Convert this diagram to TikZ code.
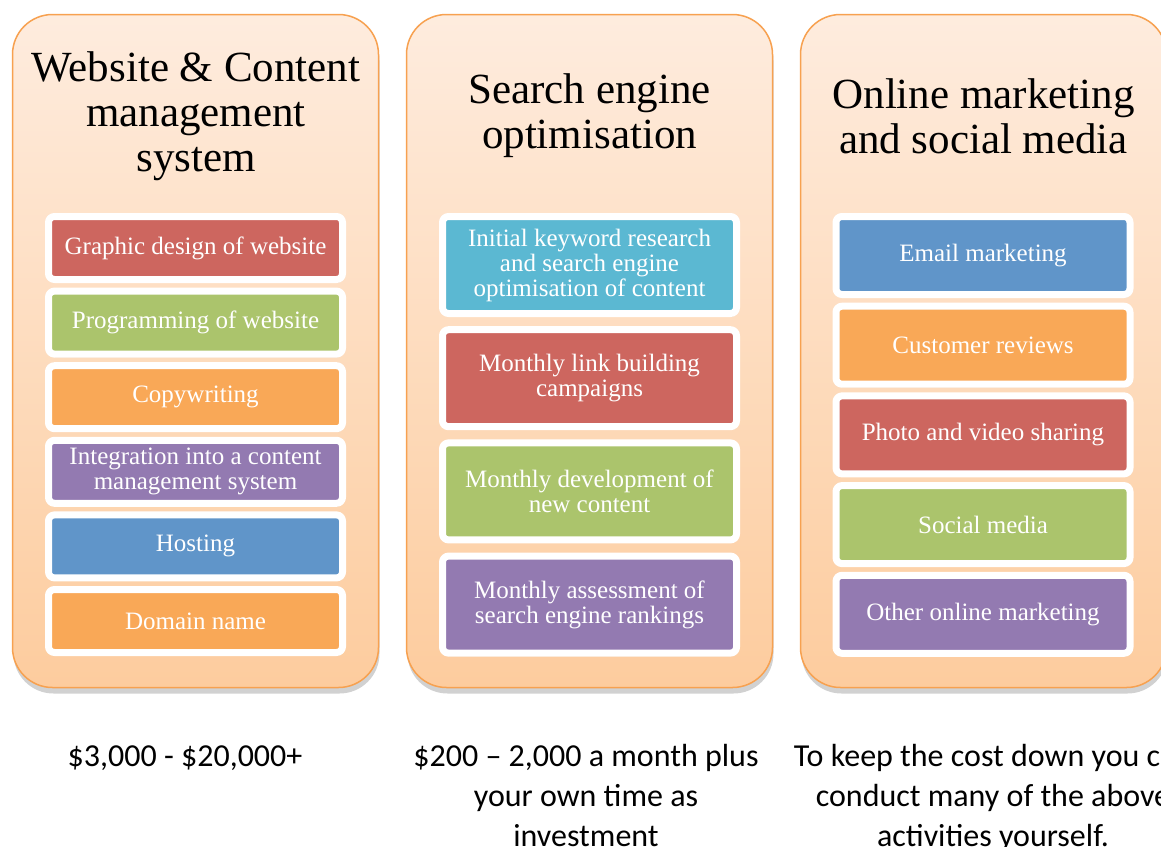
\documentclass[tikz,border=0pt]{standalone}
\usepackage{fontspec}
\setmainfont{Liberation Serif}
\newfontfamily\costfont{Carlito}
\usetikzlibrary{shadows}
\definecolor{panelline}{RGB}{247,161,80}
\definecolor{paneltop}{RGB}{254,236,222}
\definecolor{panelbot}{RGB}{253,204,158}
\definecolor{boxred}{RGB}{205,102,95}
\definecolor{boxgreen}{RGB}{171,196,108}
\definecolor{boxorange}{RGB}{249,168,87}
\definecolor{boxpurple}{RGB}{147,122,177}
\definecolor{boxblue}{RGB}{96,149,201}
\definecolor{boxcyan}{RGB}{91,184,210}
\begin{document}
\begin{tikzpicture}[x=1pt, y=-1pt, line join=round,
	panel/.style={draw=panelline, line width=1.5pt, rounded corners=40pt, top color=paneltop, bottom color=panelbot,
		minimum width=366pt, minimum height=673pt, inner sep=0pt,
		drop shadow={shadow xshift=1pt, shadow yshift=-6pt, opacity=0.18, fill=black}},
	paneltitle/.style={font=\fontsize{43}{45}\selectfont, align=center},
	item/.style={draw=white, line width=7pt, rounded corners=6pt, minimum width=294pt, inner sep=0pt,
		text=white, align=center, font=\fontsize{25}{25}\selectfont,
		drop shadow={shadow xshift=1pt, shadow yshift=-3pt, opacity=0.3, fill=black!70!brown}},
	cost/.style={font=\costfont\fontsize{32}{40}\selectfont, align=center, anchor=base}]
	\useasboundingbox (0,0) rectangle (1161,846);
	
	\node[panel] (web) at (195.5,351) {};
	\node[panel] (seo) at (589.5,351) {};
	\node[panel] (soc) at (983.5,351) {};
	
	\node[paneltitle] (webtitle) at (196,116) {Website \& Content\\management\\system};
	\node[paneltitle] (seotitle) at (589.5,116) {Search engine\\optimisation};
	\node[paneltitle] (soctitle) at (983.5,116) {Online marketing\\and social media};
	
	\foreach \n/\y/\c/\t in {1/248/boxred/Graphic design of website,
		2/322.6/boxgreen/Programming of website,
		3/397.2/boxorange/Copywriting,
		4/471.8/boxpurple/Integration into a content\\management system,
		5/546.4/boxblue/Hosting,
		6/621/boxorange/Domain name}{
		\node[item, fill=\c, minimum height=63pt] (web\n) at (195.5,\y) {\t};
	}
	\foreach \n/\y/\c/\t in {1/265/boxcyan/Initial keyword research\\and search engine\\optimisation of content,
		2/378.2/boxred/Monthly link building\\campaigns,
		3/491.4/boxgreen/Monthly development of\\new content,
		4/604.6/boxpurple/Monthly assessment of\\search engine rankings}{
		\node[item, fill=\c, minimum height=97pt] (seo\n) at (589.5,\y) {\t};
	}
	\foreach \n/\y/\c/\t in {1/255.5/boxblue/Email marketing,
		2/345.2/boxorange/Customer reviews,
		3/434.9/boxred/Photo and video sharing,
		4/524.6/boxgreen/Social media,
		5/614.3/boxpurple/Other online marketing}{
		\node[item, fill=\c, minimum height=78pt] (soc\n) at (983,\y) {\t};
	}
	
	\node[cost] (webcost) at (185,766) {\$3,000 - \$20,000+};
	\node[cost] (seocost) at (586,846) {\$200 – 2,000 a month plus\\your own time as\\investment};
	\node[cost] (soccost) at (993,846) {To keep the cost down you can\\conduct many of the above\\activities yourself.};
\end{tikzpicture}
\end{document}
